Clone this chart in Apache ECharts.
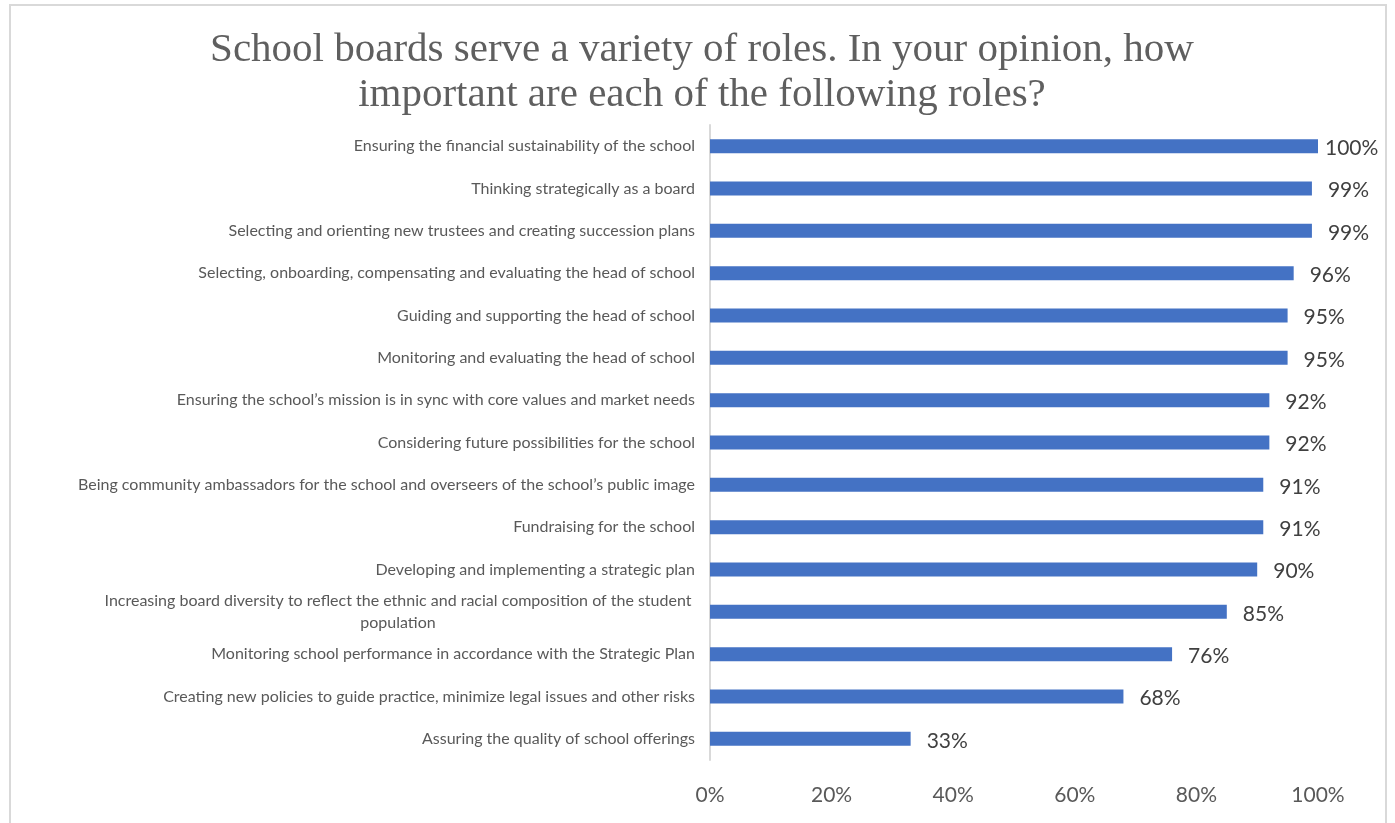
<!DOCTYPE html>
<html>
<head>
<meta charset="utf-8">
<style>
  html, body { margin: 0; padding: 0; background: #ffffff; }
  #chart { width: 1395px; height: 823px; }
</style>
<script src="https://cdn.jsdelivr.net/npm/echarts@6/dist/echarts.min.js"></script>
</head>
<body>
<div id="chart"></div>
<script>
// Survey roles, top to bottom
const roles = [
  'Ensuring the financial sustainability of the school',
  'Thinking strategically as a board',
  'Selecting and orienting new trustees and creating succession plans',
  'Selecting, onboarding, compensating and evaluating the head of school',
  'Guiding and supporting the head of school',
  'Monitoring and evaluating the head of school',
  'Ensuring the school\u2019s mission is in sync with core values and market needs',
  'Considering future possibilities for the school',
  'Being community ambassadors for the school and overseers of the school\u2019s public image',
  'Fundraising for the school',
  'Developing and implementing a strategic plan',
  'Increasing board diversity to reflect the ethnic and racial composition of the student\npopulation',
  'Monitoring school performance in accordance with the Strategic Plan',
  'Creating new policies to guide practice, minimize legal issues and other risks',
  'Assuring the quality of school offerings'
];

// Share of respondents rating each role as important (%)
const importance = [100, 99, 99, 96, 95, 95, 92, 92, 91, 91, 90, 85, 76, 68, 33];

// Percent axis ticks
const axisTicks = [0, 20, 40, 60, 80, 100];

const titleLines = [
  'School boards serve a variety of roles. In your opinion, how',
  'important are each of the following roles?'
];

const labelFont = 'Lato, "Open Sans", sans-serif';
const textGray = '#595959';

const chart = echarts.init(document.getElementById('chart'));

chart.setOption({
  animation: false,
  backgroundColor: '#ffffff',
  title: {
    text: titleLines.join('\n'),
    left: 697,
    top: 23,
    textAlign: 'center',
    textStyle: {
      fontFamily: '"Liberation Serif", "DejaVu Serif", serif',
      fontWeight: 'normal',
      fontSize: 41,
      lineHeight: 45,
      color: '#5f5f5f'
    }
  },
  graphic: [{
    type: 'rect',
    shape: { x: 10, y: 5, width: 1376, height: 840 },
    style: { fill: 'none', stroke: '#d9d9d9', lineWidth: 2 },
    silent: true
  }],
  grid: {
    left: 710,
    right: 77,
    top: 125,
    bottom: 63,
    containLabel: false
  },
  xAxis: {
    type: 'value',
    min: axisTicks[0],
    max: axisTicks[axisTicks.length - 1],
    interval: axisTicks[1] - axisTicks[0],
    axisLine: { show: false },
    axisTick: { show: false },
    splitLine: { show: false },
    axisLabel: {
      formatter: v => v + '%',
      margin: 25,
      fontFamily: labelFont,
      fontSize: 21,
      color: textGray
    }
  },
  yAxis: {
    type: 'category',
    inverse: true,
    data: roles,
    axisTick: { show: false },
    axisLine: { show: true, lineStyle: { color: '#d9d9d9', width: 2 } },
    axisLabel: {
      margin: 15,
      fontFamily: labelFont,
      fontSize: 16,
      color: textGray,
      lineHeight: 22,
      formatter: function (name) {
        if (name.indexOf('\n') < 0) return name;
        return name.split('\n').map(s => '{c|' + s + '}').join('\n');
      },
      rich: {
        c: {
          width: 594,
          align: 'center',
          fontFamily: labelFont,
          fontSize: 16,
          color: textGray,
          lineHeight: 22
        }
      }
    }
  },
  series: [{
    type: 'bar',
    data: importance.map(v => ({
      value: v,
      label: { distance: v >= 100 ? 7 : 16 }
    })),
    barWidth: 14,
    itemStyle: { color: '#4472c4' },
    label: {
      show: true,
      position: 'right',
      offset: [0, 2],
      formatter: p => p.value + '%',
      fontFamily: labelFont,
      fontSize: 21,
      color: '#404040'
    }
  }]
});
</script>
</body>
</html>
